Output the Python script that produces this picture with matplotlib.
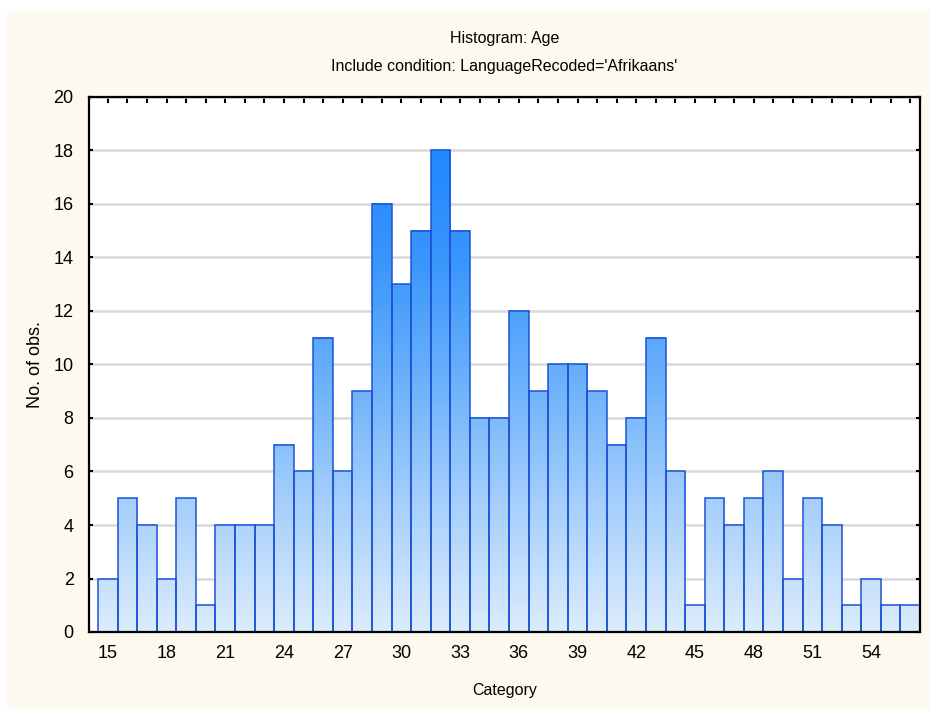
import numpy as np
import matplotlib
matplotlib.use("Agg")
import matplotlib.pyplot as plt
from matplotlib.colors import LinearSegmentedColormap, Normalize
from matplotlib.patches import Rectangle

plt.rcParams['font.family'] = ['Liberation Sans', 'DejaVu Sans']

categories = list(range(15, 57))
counts = [2, 5, 4, 2, 5, 1, 4, 4, 4, 7, 6, 11, 6, 9, 16, 13, 15, 18, 15, 8, 8,
          12, 9, 10, 10, 9, 7, 8, 11, 6, 1, 5, 4, 5, 6, 2, 5, 4, 1, 2, 1, 1]
xtick_labels = list(range(15, 57, 3))
ytick_values = list(range(0, 21, 2))

title1 = "Histogram: Age"
title2 = "Include condition: LanguageRecoded='Afrikaans'"

W, H = 930, 709
fig = plt.figure(figsize=(W / 100, H / 100), dpi=100, facecolor='white')
fig.patches.append(Rectangle((7 / W, 0), 1 - 7 / W, 1 - 11 / H, transform=fig.transFigure,
                             facecolor='#FDF9EE', edgecolor='none', zorder=-10))

left, right, top, bottom = 89, 920, 97, 632
ax = fig.add_axes([left / W, 1 - bottom / H, (right - left) / W, (bottom - top) / H])
ax.set_facecolor('white')

cmap = LinearSegmentedColormap.from_list('g', ['#DCECFD', '#A8D0FB', '#6DB2FB', '#3A96FC', '#1E86FF'])
norm = Normalize(0, 18.5)

for c, h in zip(categories, counts):
    grad = np.linspace(0, h, 100).reshape(-1, 1)
    ax.imshow(grad, extent=(c - 0.5, c + 0.5, 0, h), origin='lower', cmap=cmap, norm=norm,
              aspect='auto', zorder=2, interpolation='bilinear')
    ax.add_patch(Rectangle((c - 0.5, 0), 1, h, facecolor='none', edgecolor='#1D52D6',
                           linewidth=1.1, zorder=3))

ax.set_xlim(14.04, 56.5)
ax.set_ylim(0, 20)
ax.set_yticks(ytick_values)
ax.set_xticks(categories)
ax.set_xticklabels([str(c) if c in xtick_labels else '' for c in categories])
ax.grid(axis='y', color='#D9D9D9', linewidth=1.8, zorder=1)
ax.set_axisbelow(True)

ax.tick_params(axis='x', direction='in', length=4, width=1.5, top=True, bottom=True,
               labelsize=13, pad=9, colors='black')
ax.tick_params(axis='y', direction='in', length=3, width=1.5, left=True, right=True,
               labelsize=13, pad=11, colors='black')
for s in ax.spines.values():
    s.set_linewidth(1.6)
    s.set_color('black')
    s.set_zorder(5)

ax.set_xlabel('Category', fontsize=11.5)
ax.set_ylabel('No. of obs.', fontsize=13)
ax.xaxis.set_label_coords(0.5, -(690 - bottom) / (bottom - top), transform=ax.transAxes)
ax.xaxis.label.set_va('center')
ax.yaxis.set_label_coords(-(left - 35) / (right - left), 0.5, transform=ax.transAxes)
ax.yaxis.label.set_va('center')

cx = (left + right) / 2 / W
fig.text(cx, 1 - 38 / H, title1, ha='center', va='center', fontsize=11.5)
fig.text(cx, 1 - 66 / H, title2, ha='center', va='center', fontsize=11.5)

fig.savefig('out.png', dpi=100, facecolor=fig.get_facecolor())
